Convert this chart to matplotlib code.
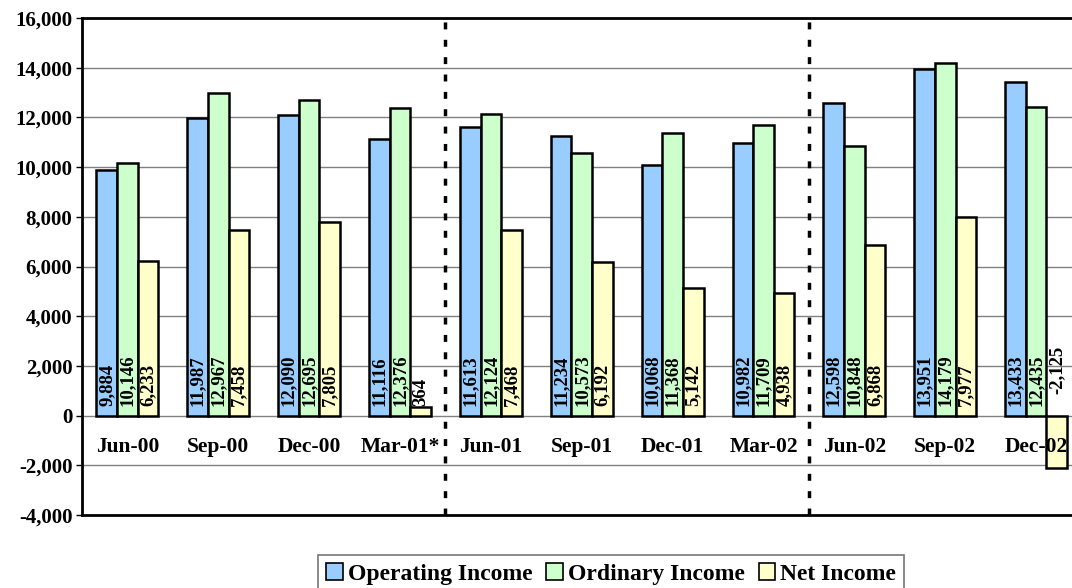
import numpy as np
import matplotlib
matplotlib.use("Agg")
import matplotlib.pyplot as plt
from matplotlib.patches import Patch

categories = ["Jun-00", "Sep-00", "Dec-00", "Mar-01*", "Jun-01", "Sep-01",
              "Dec-01", "Mar-02", "Jun-02", "Sep-02", "Dec-02"]
operating = [9884, 11987, 12090, 11116, 11613, 11234, 10068, 10982, 12598, 13951, 13433]
ordinary = [10146, 12967, 12695, 12376, 12124, 10573, 11368, 11709, 10848, 14179, 12435]
net = [6233, 7458, 7805, 364, 7468, 6192, 5142, 4938, 6868, 7977, -2125]
series_names = ["Operating Income", "Ordinary Income", "Net Income"]
colors = ["#99CCFF", "#CCFFCC", "#FFFFCC"]

plt.rcParams["font.family"] = ["Liberation Serif", "DejaVu Serif"]
plt.rcParams["font.weight"] = "bold"

fig = plt.figure(figsize=(10.72, 5.88), dpi=100)
ax = fig.add_axes([82 / 1072, 1 - 515 / 588, (1081.5 - 82) / 1072, (515 - 18) / 588])

x = np.arange(len(categories))
w = 0.227
all_series = [operating, ordinary, net]
for i, (vals, col) in enumerate(zip(all_series, colors)):
    pos = x + (i - 1) * w
    ax.bar(pos, vals, width=w, color=col, edgecolor="black", linewidth=1.8, zorder=3)
    # value labels sit at the bar base, reading upwards
    for px, v in zip(pos, vals):
        ax.annotate(f"{v:,}", xy=(px, 0), xytext=(0, 10 if v >= 0 else 22),
                    textcoords="offset pixels", rotation=90, ha="center",
                    va="bottom", fontsize=13.5, fontweight="bold", zorder=5)

ax.set_xlim(-0.5, len(categories) - 0.5)
ax.set_ylim(-4000, 16000)
ax.set_yticks(np.arange(-4000, 16001, 2000))
ax.set_yticklabels([f"{t:,}" for t in range(-4000, 16001, 2000)], fontsize=15, fontweight="bold")
ax.set_xticks([])
ax.grid(axis="y", color="#808080", linewidth=1, zorder=0)
ax.tick_params(axis="y", length=4, width=1, pad=3)

for sp in ["left", "top", "bottom"]:
    ax.spines[sp].set_linewidth(2)
ax.spines["right"].set_visible(False)

for c, lab in zip(x, categories):
    ax.text(c, -1250, lab, ha="center", va="center", fontsize=15.5, fontweight="bold", zorder=4)

for xv in [3.5, 7.5]:
    ax.axvline(xv, color="black", linestyle=(0, (2, 3)), linewidth=2.5, zorder=4)

handles = [Patch(facecolor=c, edgecolor="black", linewidth=1.2) for c in colors]
leg = fig.legend(handles, series_names, loc="center", bbox_to_anchor=(611 / 1072, 1 - 574 / 588),
                 ncol=3, frameon=True, fancybox=False, edgecolor="#555555",
                 handlelength=0.7, handleheight=0.7, handletextpad=0.2, columnspacing=0.6,
                 borderpad=0.35, prop={"weight": "bold", "size": 17})
leg.get_frame().set_linewidth(1.2)

fig.savefig("out.png", dpi=100)
